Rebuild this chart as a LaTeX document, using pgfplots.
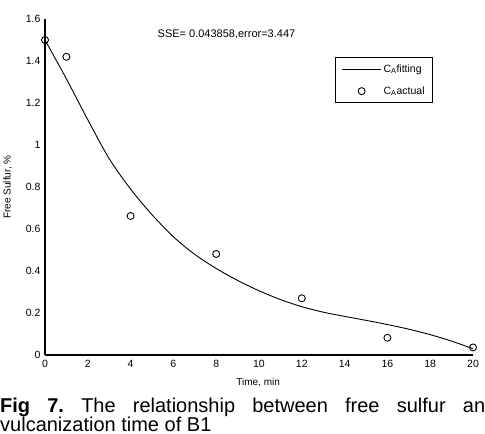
\documentclass[border=0pt]{standalone}
\usepackage{fontspec}
\setmainfont{Liberation Sans}
\usepackage{pgfplots}
\pgfplotsset{compat=1.18}
\pgfplotsset{
  fitlegend/.style={legend image code/.code={\draw[##1] (0pt,0pt) -- (39pt,0pt);}},
  marklegend/.style={legend image code/.code={\draw[##1] plot coordinates {(19.5pt,0pt)};}},
}
\begin{document}
\begin{tikzpicture}
\begin{axis}[
  at={(0,0)}, anchor=south west,
  scale only axis, width=428pt, height=336pt,
  xmin=0, xmax=20, ymin=0, ymax=1.6,
  xtick={0,2,...,20}, ytick={0,0.2,...,1.6},
  yticklabels={0,0.2,0.4,0.6,0.8,1,1.2,1.4,1.6},
  major tick length=0pt,
  axis x line*=bottom, axis y line*=left,
  axis line style={line width=2pt},
  separate axis lines,
  x axis line style={-}, y axis line style={-},
  /pgf/number format/assume math mode=true,
  tick label style={font=\fontsize{10.5}{12}\selectfont},
  xticklabel style={yshift=-2pt},
  yticklabel style={xshift=-1pt},
  xlabel={Time, min}, ylabel={Free Sulfur, \%},
  label style={font=\fontsize{10}{12}\selectfont},
  xlabel style={at={(axis description cs:0.498,-0.083)}, anchor=center},
  ylabel style={at={(axis description cs:-0.087,0.5)}, anchor=center},
  legend style={at={(rel axis cs:0.678,0.887)}, anchor=north west,
    draw=black, line width=1pt, font=\fontsize{10.5}{12}\selectfont,
    inner xsep=6pt, inner ysep=5pt, row sep=9pt, cells={anchor=west}},
  clip=false,
]
\addplot[black, line width=0.9pt, smooth, fitlegend]
  coordinates {(0,1.5) (1,1.315) (2,1.12) (3,0.935) (4,0.79) (5,0.668) (6,0.563)
    (7,0.479) (8,0.412) (9,0.355) (10,0.306) (11,0.264) (12,0.23) (13,0.204)
    (14,0.184) (15,0.165) (16,0.145) (17,0.123) (18,0.097) (19,0.066) (20,0.03)};
\addlegendentry{C\textsubscript{A}fitting}
\addplot[only marks, mark=o, mark size=3.5pt, black, line width=0.9pt, marklegend]
  coordinates {(0,1.5) (1,1.42) (4,0.662) (8,0.481) (12,0.27) (16,0.082) (20,0.036)};
\addlegendentry{C\textsubscript{A}actual}
\node[anchor=west, font=\fontsize{11}{13}\selectfont] at (rel axis cs:0.255,0.955) {SSE= 0.043858,error=3.447};
\end{axis}
\node[anchor=base west, inner sep=0pt, font=\fontsize{20}{24}\selectfont] at (-45pt,-57pt)
  {\makebox[485pt][l]{\textbf{Fig}\hfill\textbf{7.}\hfill The\hfill relationship\hfill between\hfill free\hfill sulfur\hfill an}};
\node[anchor=base west, inner sep=0pt, font=\fontsize{20}{24}\selectfont] at (-45pt,-76.5pt)
  {vulcanization time of B1};
\pgfresetboundingbox
\path[use as bounding box] (-45pt,-79pt) rectangle (440pt,355pt);
\end{tikzpicture}
\end{document}
